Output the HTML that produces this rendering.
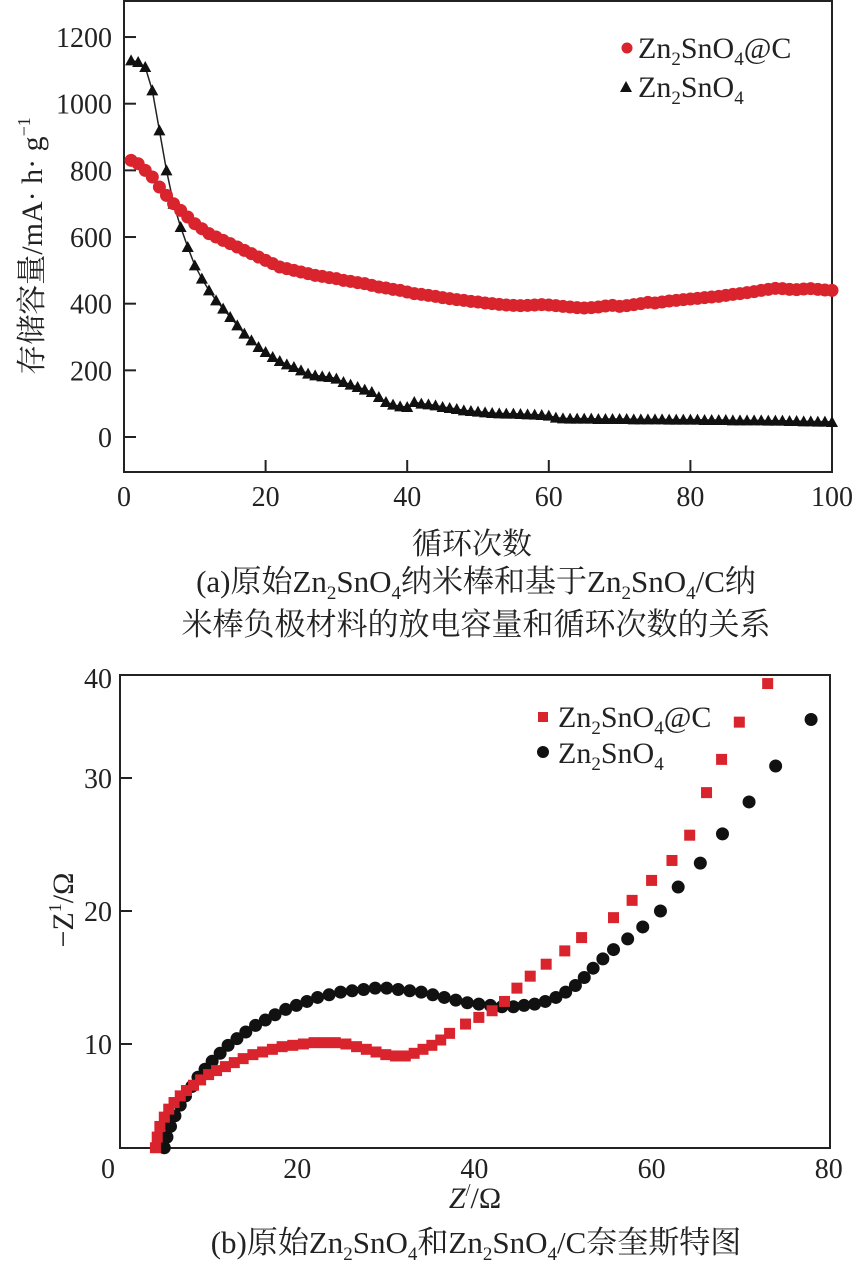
<!DOCTYPE html>
<html><head><meta charset="utf-8">
<style>
body{margin:0;background:#fff;}
svg text{font-family:"Liberation Serif","Noto Serif CJK SC",serif;fill:#222;}
</style></head>
<body>
<svg width="853" height="1268" viewBox="0 0 853 1268" xmlns="http://www.w3.org/2000/svg">
<g id="top"></g>
<g id="bot"></g>
</svg>
<script>
// ---------- chart (a) data ----------
const capXTicks=[0,20,40,60,80,100];
const capYTicks=[0,200,400,600,800,1000,1200];
const redCapacity=[830,820,800,780,750,725,700,680,660,640,625,610,600,590,580,570,560,550,540,530,520,510,505,500,495,490,485,482,478,475,470,467,463,460,455,450,447,443,440,435,430,428,425,422,418,415,412,410,407,405,402,400,398,396,395,394,395,396,397,396,394,392,390,388,387,388,390,393,395,392,394,397,400,404,402,405,408,410,412,414,416,418,420,422,425,428,430,433,436,440,443,446,445,443,442,444,445,443,441,440];
const blackCapacity=[1130,1125,1110,1040,920,800,700,630,570,515,475,440,410,385,360,335,310,290,270,255,240,228,218,210,200,190,185,182,180,175,165,157,150,142,135,120,105,97,92,90,105,100,98,95,90,87,84,80,78,76,74,72,71,70,70,69,68,67,66,64,58,56,55,55,55,55,54,54,54,54,54,53,53,53,53,53,52,52,52,52,52,51,51,51,51,50,50,50,50,50,49,49,49,48,48,47,47,46,46,45];
// ---------- chart (b) data ----------
const nyXTicks=[0,20,40,60,80];
const nyYTicks=[10,20,30];
const redNyquist=[[4,2.2],[4.2,3],[4.5,3.8],[5,4.5],[5.5,5.1],[6.1,5.6],[6.8,6.1],[7.5,6.5],[8.3,6.9],[9.1,7.3],[10,7.7],[10.9,8],[11.9,8.3],[12.9,8.6],[13.9,8.9],[15,9.2],[16.1,9.4],[17.2,9.6],[18.3,9.8],[19.5,9.9],[20.7,10],[21.9,10.1],[23.1,10.1],[24.3,10.1],[25.5,10],[26.7,9.8],[27.8,9.6],[28.9,9.4],[30,9.2],[31.1,9.1],[32.2,9.1],[33.2,9.3],[34.2,9.6],[35.2,9.9],[36.2,10.3],[37.2,10.8],[39,11.5],[40.5,12],[42,12.5],[43.4,13.2],[44.8,14.2],[46.3,15.1],[48.1,16],[50.2,17],[52.1,18],[55.7,19.5],[57.8,20.8],[60,22.3],[62.3,23.8],[64.3,25.7],[66.2,28.9],[67.9,31.4],[69.9,34.2],[73.1,37.1]];
const blackNyquist=[[5,2.2],[5.3,3],[5.7,3.8],[6.2,4.6],[6.8,5.4],[7.4,6.1],[8.1,6.8],[8.8,7.5],[9.6,8.1],[10.4,8.7],[11.3,9.3],[12.2,9.9],[13.2,10.4],[14.2,10.9],[15.3,11.4],[16.4,11.8],[17.5,12.2],[18.7,12.6],[19.9,12.9],[21.1,13.2],[22.3,13.5],[23.6,13.7],[24.9,13.9],[26.2,14],[27.5,14.1],[28.8,14.2],[30.1,14.2],[31.4,14.1],[32.7,14],[34,13.9],[35.3,13.7],[36.6,13.5],[37.9,13.3],[39.2,13.1],[40.5,13],[41.8,12.9],[43.1,12.8],[44.4,12.8],[45.6,12.9],[46.8,13],[48,13.2],[49.2,13.5],[50.3,13.9],[51.4,14.4],[52.4,15],[53.4,15.7],[54.5,16.4],[55.7,17.1],[57.3,17.9],[59,18.8],[61,20],[63,21.8],[65.5,23.6],[68,25.8],[71,28.2],[74,30.9],[78,34.4]];

const NS="http://www.w3.org/2000/svg";
function mk(parent,tag,attrs,txt){const e=document.createElementNS(NS,tag);for(const k in attrs)e.setAttribute(k,attrs[k]);if(txt!==undefined)e.textContent=txt;parent.appendChild(e);return e;}
const TF=28;

// ===== chart a =====
const A=document.getElementById('top');
const ax=v=>124+v*7.08, ay=v=>437-v*0.3333;
let fr=mk(A,'rect',{x:124,y:1,width:708,height:471,fill:'none',stroke:'#222','stroke-width':2});

capYTicks.forEach(v=>{
  let l=mk(A,'line',{x1:124,x2:136,y1:ay(v),y2:ay(v),stroke:'#222','stroke-width':2});
  
  let t=mk(A,'text',{x:112,y:ay(v)+10,'text-anchor':'end','font-size':TF},String(v));
  
});
capXTicks.forEach(v=>{
  let l=mk(A,'line',{x1:ax(v),x2:ax(v),y1:472,y2:460,stroke:'#222','stroke-width':2});
  
  let t=mk(A,'text',{x:ax(v),y:506,'text-anchor':'middle','font-size':TF},String(v));
  
});
let pts=blackCapacity.map((v,i)=>ax(i+1)+','+ay(v)).join(' ');
let bl=mk(A,'polyline',{points:pts,fill:'none',stroke:'#222','stroke-width':1.5});

blackCapacity.forEach((v,i)=>{const x=ax(i+1),y=ay(v);
  let p=mk(A,'polygon',{points:`${x},${y-6} ${x-6},${y+5} ${x+6},${y+5}`,fill:'#111'});
  });
redCapacity.forEach((v,i)=>{
  let c=mk(A,'circle',{cx:ax(i+1),cy:ay(v),r:6.5,fill:'#d9232d'});
  });
let lg=mk(A,'g',{});
mk(lg,'circle',{cx:627,cy:48,r:5.5,fill:'#d9232d'});
lg.insertAdjacentHTML('beforeend','<text x="638" y="58" font-size="30">Zn<tspan font-size="19" dy="7">2</tspan><tspan dy="-7">SnO</tspan><tspan font-size="19" dy="7">4</tspan><tspan dy="-7">@C</tspan></text>');
mk(lg,'polygon',{points:'626,81 620,92 632,92',fill:'#111'});
lg.insertAdjacentHTML('beforeend','<text x="638" y="97" font-size="30">Zn<tspan font-size="19" dy="7">2</tspan><tspan dy="-7">SnO</tspan><tspan font-size="19" dy="7">4</tspan></text>');
A.insertAdjacentHTML('beforeend','<text transform="translate(42,246) rotate(-90)" text-anchor="middle" font-size="30">存储容量/mA· h· g<tspan font-size="18" dy="-12">−1</tspan></text>');
A.insertAdjacentHTML('beforeend','<text x="472" y="554" text-anchor="middle" font-size="30">循环次数</text>');
A.insertAdjacentHTML('beforeend','<text x="476" y="592" text-anchor="middle" font-size="31">(a)原始Zn<tspan font-size="19" dy="7">2</tspan><tspan dy="-7">SnO</tspan><tspan font-size="19" dy="7">4</tspan><tspan dy="-7">纳米棒和基于Zn</tspan><tspan font-size="19" dy="7">2</tspan><tspan dy="-7">SnO</tspan><tspan font-size="19" dy="7">4</tspan><tspan dy="-7">/C纳</tspan></text>');
A.insertAdjacentHTML('beforeend','<text x="476" y="635" text-anchor="middle" font-size="31">米棒负极材料的放电容量和循环次数的关系</text>');

// ===== chart b =====
const B=document.getElementById('bot');
const bx=v=>120+v*8.86, by=v=>1044-(v-10)*13.3;
fr=mk(B,'rect',{x:120,y:675,width:710,height:473,fill:'none',stroke:'#222','stroke-width':2});

nyYTicks.forEach(v=>{
  let yy=v===30?778:by(v);
  let l=mk(B,'line',{x1:120,x2:132,y1:yy,y2:yy,stroke:'#222','stroke-width':2});
  
  let t=mk(B,'text',{x:112,y:yy+10,'text-anchor':'end','font-size':TF},String(v));
  
});
let t40=mk(B,'text',{x:112,y:688,'text-anchor':'end','font-size':TF},'40');

nyXTicks.forEach(v=>{
  let t=mk(B,'text',{x:v===0?108:bx(v),y:1178,'text-anchor':'middle','font-size':TF},String(v));
  
});
blackNyquist.forEach(p=>{
  let c=mk(B,'circle',{cx:bx(p[0]),cy:by(p[1]),r:6.5,fill:'#111'});
  });
redNyquist.forEach(p=>{
  let r=mk(B,'rect',{x:bx(p[0])-5.5,y:by(p[1])-5.5,width:11,height:11,fill:'#d9232d'});
  });
lg=mk(B,'g',{});
mk(lg,'rect',{x:538,y:712,width:10,height:10,fill:'#d9232d'});
lg.insertAdjacentHTML('beforeend','<text x="558" y="727" font-size="30">Zn<tspan font-size="19" dy="7">2</tspan><tspan dy="-7">SnO</tspan><tspan font-size="19" dy="7">4</tspan><tspan dy="-7">@C</tspan></text>');
mk(lg,'circle',{cx:543,cy:752,r:6,fill:'#111'});
lg.insertAdjacentHTML('beforeend','<text x="558" y="763" font-size="30">Zn<tspan font-size="19" dy="7">2</tspan><tspan dy="-7">SnO</tspan><tspan font-size="19" dy="7">4</tspan></text>');
B.insertAdjacentHTML('beforeend','<text transform="translate(73,910) rotate(-90)" text-anchor="middle" font-size="30">−Z<tspan font-size="18" dy="-12">1</tspan><tspan dy="12">/Ω</tspan></text>');
B.insertAdjacentHTML('beforeend','<text x="475" y="1208" text-anchor="middle" font-size="30"><tspan font-style="italic">Z</tspan><tspan font-size="18" dy="-12">/</tspan><tspan dy="12">/Ω</tspan></text>');
B.insertAdjacentHTML('beforeend','<text x="476" y="1253" text-anchor="middle" font-size="31">(b)原始Zn<tspan font-size="19" dy="7">2</tspan><tspan dy="-7">SnO</tspan><tspan font-size="19" dy="7">4</tspan><tspan dy="-7">和Zn</tspan><tspan font-size="19" dy="7">2</tspan><tspan dy="-7">SnO</tspan><tspan font-size="19" dy="7">4</tspan><tspan dy="-7">/C奈奎斯特图</tspan></text>');
</script>
</body></html>
